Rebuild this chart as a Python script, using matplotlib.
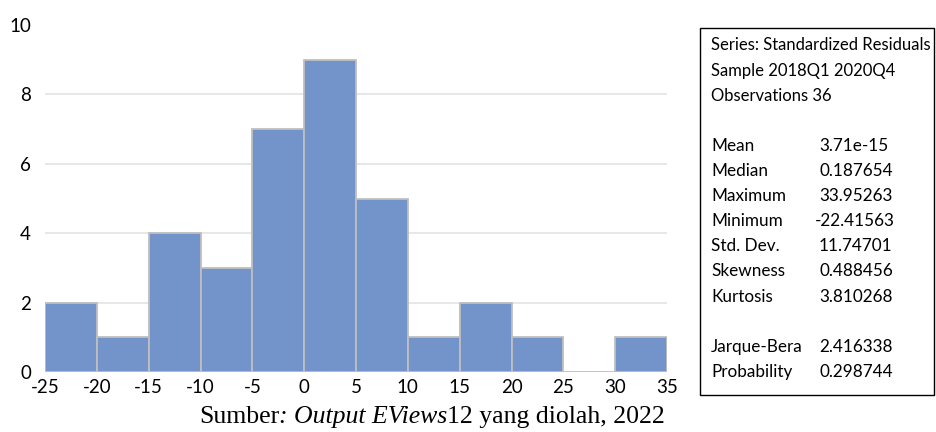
import matplotlib
matplotlib.use("Agg")
import matplotlib.pyplot as plt
from matplotlib.patches import Rectangle
from matplotlib.offsetbox import TextArea, HPacker, AnchoredOffsetbox

# ---- data ----
bin_edges = [-25, -20, -15, -10, -5, 0, 5, 10, 15, 20, 25, 30, 35]
counts = [2, 1, 4, 3, 7, 9, 5, 1, 2, 1, 0, 1]
y_ticks = [0, 2, 4, 6, 8, 10]
x_ticks = [-25, -20, -15, -10, -5, 0, 5, 10, 15, 20, 25, 30, 35]

stats_header = ["Series: Standardized Residuals", "Sample 2018Q1 2020Q4", "Observations 36"]
stat_names = ["Mean", "Median", "Maximum", "Minimum", "Std. Dev.", "Skewness", "Kurtosis"]
stat_values = ["3.71e-15", "0.187654", "33.95263", "-22.41563", "11.74701", "0.488456", "3.810268"]
test_names = ["Jarque-Bera", "Probability"]
test_values = ["2.416338", "0.298744"]
caption_parts = ["Sumber", ": ", "Output EViews", "12 yang diolah, 2022"]

W, H = 936, 432
fig = plt.figure(figsize=(W / 100, H / 100), dpi=100)
FONT = "Lato"

def fx(px):
    return px / W

def fy(py):
    return 1 - py / H

ax = fig.add_axes([fx(45), fy(372), fx(667) - fx(45), fy(25) - fy(372)])
widths = [bin_edges[i + 1] - bin_edges[i] for i in range(len(counts))]
ax.bar(bin_edges[:-1], counts, width=widths, align="edge", color="#7394CB",
       edgecolor="#BFBFBF", linewidth=1.3, zorder=3)
ax.set_xlim(bin_edges[0], bin_edges[-1])
ax.set_ylim(0, 10)
ax.set_yticks(y_ticks)
ax.set_xticks(x_ticks)
ax.set_yticklabels([str(v) for v in y_ticks], fontname=FONT, fontsize=13.5)
ax.set_xticklabels([str(v) for v in x_ticks], fontname=FONT, fontsize=13.5)
ax.tick_params(length=0, pad=5)
ax.tick_params(axis="y", pad=10)
for s in ax.spines.values():
    s.set_visible(False)
for v in y_ticks[1:-1]:
    ax.axhline(v, color="#E3E3E3", linewidth=1.2, zorder=0)

# stats box
fig.patches.append(Rectangle((fx(700), fy(395)), fx(934) - fx(700), fy(28) - fy(395),
                             transform=fig.transFigure, fill=False, edgecolor="black",
                             linewidth=1.0))
step = 25.1
y0 = 45.5
lx, vx = 711, 819
fs_head = 12
fs = 12.3
for i, t in enumerate(stats_header):
    fig.text(fx(lx), fy(y0 + i * step), t, fontname=FONT, fontsize=fs_head, va="center", ha="left")
for i, (n, v) in enumerate(zip(stat_names, stat_values)):
    yy = y0 + (4 + i) * step
    fig.text(fx(lx), fy(yy), n, fontname=FONT, fontsize=fs, va="center", ha="left")
    fig.text(fx(vx - (4 if v.startswith("-") else 0)), fy(yy), v, fontname=FONT, fontsize=fs,
             va="center", ha="left")
for i, (n, v) in enumerate(zip(test_names, test_values)):
    yy = y0 + (12 + i) * step
    fig.text(fx(lx), fy(yy), n, fontname=FONT, fontsize=fs, va="center", ha="left")
    fig.text(fx(vx), fy(yy), v, fontname=FONT, fontsize=fs, va="center", ha="left")

# caption with mixed styles
styles = ["normal", "italic", "italic", "normal"]
boxes = [TextArea(t, textprops=dict(fontfamily="Liberation Serif", fontsize=18.5, fontstyle=s))
         for t, s in zip(caption_parts, styles)]
pack = HPacker(children=boxes, align="baseline", pad=0, sep=0)
ab = AnchoredOffsetbox(loc="center", child=pack, frameon=False,
                       bbox_to_anchor=(fx(432), fy(417)), bbox_transform=fig.transFigure,
                       borderpad=0, pad=0)
fig.add_artist(ab)

fig.savefig("out.png", dpi=100)
